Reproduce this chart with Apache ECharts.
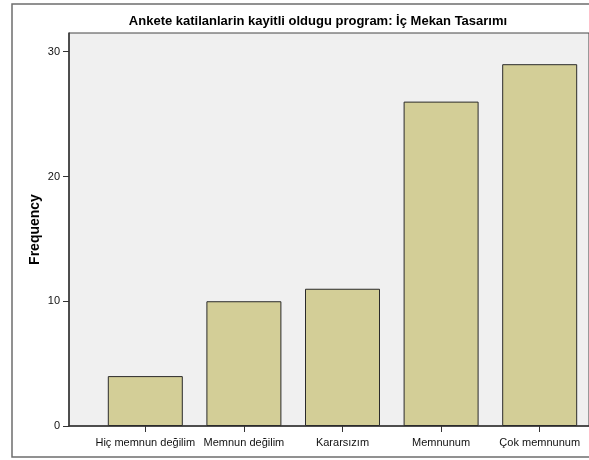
<!DOCTYPE html>
<html>
<head>
<meta charset="utf-8">
<script src="https://cdn.jsdelivr.net/npm/echarts@6/dist/echarts.min.js"></script>
<style>
  html, body { margin: 0; padding: 0; background: #fff; }
</style>
</head>
<body>
<div id="myChart" style="width: 589px; height: 460px;"></div>
<script>
    // data
    const categories = ['Hiç memnun değilim', 'Memnun değilim', 'Kararsızım', 'Memnunum', 'Çok memnunum'];
    const frequency = [4, 10, 11, 26, 29];
    const yTicks = [0, 10, 20, 30];

    const font = 'Arial, "Liberation Sans", sans-serif';
    let myChart = echarts.init(document.getElementById('myChart'));

    let option = {
        animation: false,
        backgroundColor: '#fff',
        title: {
            text: 'Ankete katilanlarin kayitli oldugu program: İç Mekan Tasarımı',
            left: 313,
            textAlign: 'center',
            top: 10,
            textStyle: {
                fontFamily: '"Liberation Sans Narrow", "Arial Narrow", ' + font,
                fontSize: 13,
                fontWeight: 'bold',
                color: '#000'
            }
        },
        graphic: [
            {
                // outer frame
                type: 'rect',
                shape: {x: 12, y: 4, width: 600, height: 453},
                style: {fill: 'none', stroke: '#6e6e6e', lineWidth: 1.5},
                z: 0
            }
        ],
        grid: [
            // plot background + y axis
            {left: 69, top: 33, width: 549, height: 393, show: true,
             backgroundColor: '#f0f0f0', borderColor: '#444', borderWidth: 1},
            // bars
            {left: 96, top: 33, width: 495, height: 393}
        ],
        xAxis: [
            {
                type: 'value', gridIndex: 0, min: 0, max: 1,
                axisLine: {show: true, onZero: false, lineStyle: {color: '#333', width: 1.5}},
                axisTick: {show: false}, axisLabel: {show: false}, splitLine: {show: false}
            },
            {
                type: 'category', gridIndex: 1, data: categories,
                axisLine: {show: false},
                axisTick: {show: true, alignWithLabel: true, interval: 0, length: 6, lineStyle: {color: '#333'}},
                axisLabel: {interval: 0, margin: 11, fontFamily: font, fontSize: 11, color: '#111'},
                splitLine: {show: false}
            }
        ],
        yAxis: [
            {
                type: 'value', gridIndex: 0, min: 0, max: 31.5,
                name: 'Frequency', nameLocation: 'middle', nameGap: 27, nameRotate: 90,
                nameMoveOverlap: false,
                nameTextStyle: {fontFamily: font, fontSize: 14, fontWeight: 'bold', color: '#000'},
                axisLine: {show: true, lineStyle: {color: '#333', width: 1.5}},
                axisTick: {show: true, length: 6, customValues: yTicks, lineStyle: {color: '#333'}},
                axisLabel: {margin: 9, customValues: yTicks, fontFamily: font, fontSize: 11, color: '#111'},
                splitLine: {show: false}
            },
            {
                type: 'value', gridIndex: 1, min: 0, max: 31.5, show: false
            }
        ],
        series: [
            {
                name: 'Frequency',
                type: 'bar',
                xAxisIndex: 1,
                yAxisIndex: 1,
                barWidth: 75,
                itemStyle: {color: '#d3ce97', borderColor: '#2b2b2b', borderWidth: 1},
                data: frequency
            }
        ]
    };
    myChart.setOption(option);
</script>
</body>
</html>
